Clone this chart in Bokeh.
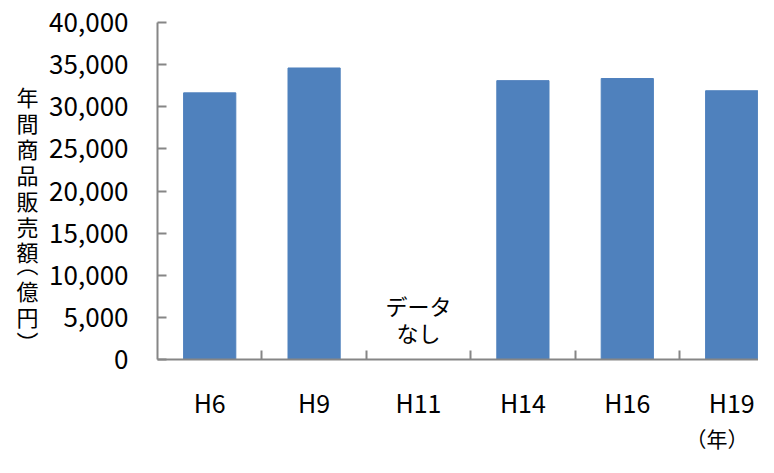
from bokeh.plotting import figure
from bokeh.models import Range1d, FixedTicker, NumeralTickFormatter, Label, ColumnDataSource, LinearAxis
from bokeh.embed import file_html
from bokeh.resources import INLINE

years = ["H6", "H9", "H11", "H14", "H16", "H19"]
sales = [31650, 34600, None, 33100, 33350, 31900]
y_title_chars = ["年", "間", "商", "品", "販", "売", "額", "︵", "億", "円", "︶"]
no_data_text = "データ\nなし"
unit_text = "（年）"

FONT = "Noto Sans CJK JP"

W, H = 758, 457
LEFT, TOP, BOTTOM = 157, 22, 98
FRAME_H = H - TOP - BOTTOM
YMAX = 40000
CAT_W = 104.4
XMAX = (W - LEFT) / CAT_W

def ydata(py):  # pixel row in canvas -> data y
    return (H - BOTTOM - py) * YMAX / FRAME_H

xs = [i + 0.5 for i, v in enumerate(sales) if v is not None]
tops = [v for v in sales if v is not None]
src = ColumnDataSource(dict(x=xs, top=tops))

p = figure(width=W, height=H, output_backend="svg", toolbar_location=None,
           x_range=Range1d(0, XMAX), y_range=Range1d(0, YMAX),
           min_border_left=LEFT, min_border_right=0, min_border_top=TOP, min_border_bottom=BOTTOM)
p.outline_line_color = None
p.xgrid.visible = False
p.ygrid.visible = False

p.vbar(x="x", top="top", width=0.5, bottom=0, source=src, fill_color="#4F81BD", line_color="#4F81BD")

AX = "#868686"
# y axis
p.yaxis.ticker = FixedTicker(ticks=list(range(0, YMAX + 1, 5000)))
p.yaxis.formatter = NumeralTickFormatter(format="0,0")
p.yaxis.axis_line_color = AX
p.yaxis.axis_line_width = 2
p.yaxis.major_tick_line_color = AX
p.yaxis.major_tick_line_width = 2
p.yaxis.major_tick_in = 9
p.yaxis.major_tick_out = 0
p.yaxis.minor_tick_line_color = None
p.yaxis.major_label_text_font = FONT
p.yaxis.major_label_text_font_size = "26px"
p.yaxis.major_label_text_color = "black"
p.yaxis.major_label_standoff = 29

# x axis: labels at category centres, tick marks at category boundaries
centers = [i + 0.5 for i in range(len(years))]
p.xaxis.ticker = FixedTicker(ticks=centers, minor_ticks=[1, 2, 3, 4, 5])
p.xaxis.major_label_overrides = {c: y for c, y in zip(centers, years)}
p.xaxis.axis_line_color = AX
p.xaxis.axis_line_width = 2
p.xaxis.major_tick_line_color = None
p.xaxis.minor_tick_line_color = AX
p.xaxis.minor_tick_line_width = 2
p.xaxis.minor_tick_in = 9
p.xaxis.minor_tick_out = 0
p.xaxis.major_label_text_font = FONT
p.xaxis.major_label_text_font_size = "25px"
p.xaxis.major_label_text_color = "black"
p.xaxis.major_label_standoff = 18

def bare_axis(ax, font_size, standoff):
    ax.axis_line_color = None
    ax.major_tick_line_color = None
    ax.minor_tick_line_color = None
    ax.major_label_text_font = FONT
    ax.major_label_text_font_size = font_size
    ax.major_label_text_color = "black"
    ax.major_label_standoff = standoff
    return ax

# vertical y title: one character per row, drawn as labels of an extra left axis
title_rows = [95, 121, 147, 173, 199, 225, 251, 262, 290, 316, 340]
title_ticks = [round(ydata(r)) for r in title_rows]
title_axis = LinearAxis(ticker=FixedTicker(ticks=title_ticks, minor_ticks=[]),
                        major_label_overrides={t: c for t, c in zip(title_ticks, y_title_chars)})
bare_axis(title_axis, "22px", 2)
p.add_layout(title_axis, "left")

# unit "(年)" below H19, as the label of an extra bottom axis
unit_axis = LinearAxis(ticker=FixedTicker(ticks=[5.55], minor_ticks=[]),
                       major_label_overrides={5.55: unit_text})
bare_axis(unit_axis, "21px", -6)
p.add_layout(unit_axis, "below")

# no data text
p.add_layout(Label(x=2.5, y=ydata(318), text=no_data_text, text_font=FONT, text_font_size="22px",
                   text_align="center", text_baseline="middle", text_line_height=0.85, text_color="black"))

open("out.html", "w").write(file_html(p, INLINE))
